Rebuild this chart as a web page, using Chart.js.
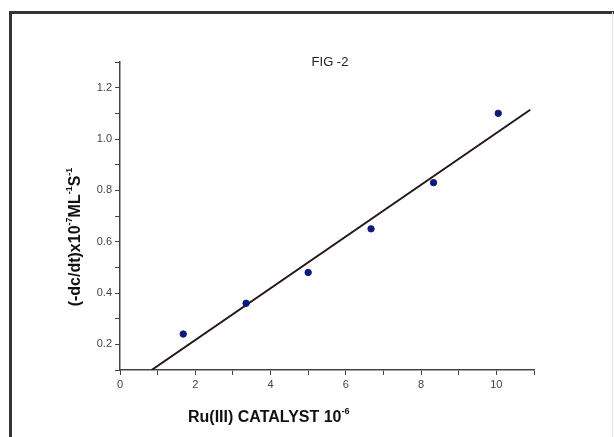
<!DOCTYPE html>
<html>
<head>
<meta charset="utf-8">
<script src="https://cdn.jsdelivr.net/npm/chart.js@4/dist/chart.umd.min.js"></script>
<style>
  html, body { margin: 0; padding: 0; background: #fff; }
  #wrap { width: 614px; height: 437px; position: relative; }
</style>
</head>
<body>
<div id="wrap"><canvas id="fig2"></canvas></div>
<script>
// Ru(III) catalyst concentration (x10^-6) vs rate (x10^-7 M L^-1 S^-1)
const catalyst = [1.68, 3.35, 5.0, 6.67, 8.33, 10.05];
const rate = [0.24, 0.36, 0.48, 0.65, 0.83, 1.10];

// fitted straight line, end points
const fitX = [0.84, 10.9];
const fitY = [0.10, 1.114];

const xTicks = [0, 2, 4, 6, 8, 10];
const yTicks = [0.2, 0.4, 0.6, 0.8, 1.0, 1.2];

const font = '"Liberation Sans", Arial, sans-serif';

// draws text with superscript parts, parts = [[text, isSup], ...]
function drawRich(ctx, parts, x, y, size) {
    let cx = x;
    parts.forEach(function (p) {
        const sup = p[1];
        ctx.font = 'bold ' + (sup ? Math.round(size * 0.55) : size) + 'px ' + font;
        ctx.fillText(p[0], cx, sup ? y - size * 0.42 : y);
        cx += ctx.measureText(p[0]).width;
    });
}

function richWidth(ctx, parts, size) {
    let w = 0;
    parts.forEach(function (p) {
        ctx.font = 'bold ' + (p[1] ? Math.round(size * 0.55) : size) + 'px ' + font;
        w += ctx.measureText(p[0]).width;
    });
    return w;
}

const decorations = {
    id: 'decorations',
    afterDraw(chart) {
        const ctx = chart.ctx;
        ctx.save();

        // outer frame
        ctx.strokeStyle = '#333';
        ctx.lineWidth = 3;
        ctx.beginPath();
        ctx.moveTo(10.5, 437);
        ctx.lineTo(10.5, 12.5);
        ctx.lineTo(614, 12.5);
        ctx.stroke();
        ctx.strokeStyle = '#e4e4e4';
        ctx.lineWidth = 1;
        ctx.beginPath();
        ctx.moveTo(612.5, 12);
        ctx.lineTo(612.5, 437);
        ctx.stroke();

        // title
        ctx.fillStyle = '#222';
        ctx.font = '13px ' + font;
        ctx.textAlign = 'center';
        ctx.textBaseline = 'middle';
        ctx.fillText('FIG -2', 330, 62);

        ctx.textAlign = 'left';
        ctx.textBaseline = 'middle';
        ctx.fillStyle = '#111';

        // x axis title
        const xParts = [['Ru(III) CATALYST 10', false], ['-6', true]];
        drawRich(ctx, xParts, 188, 418, 16);

        // y axis title
        const yParts = [['(-dc/dt)x10', false], ['-7', true], ['ML', false],
            ['-1', true], ['S', false], ['-1', true]];
        const w = richWidth(ctx, yParts, 16);
        ctx.translate(76, 237);
        ctx.rotate(-Math.PI / 2);
        drawRich(ctx, yParts, -w / 2, 0, 16);

        ctx.restore();
    }
};

new Chart(document.getElementById('fig2'), {
    type: 'scatter',
    data: {
        datasets: [
            {
                label: 'rate',
                data: catalyst.map((x, i) => ({ x: x, y: rate[i] })),
                backgroundColor: '#0c1a7c',
                borderColor: '#0c1a7c',
                pointRadius: 3.2,
                showLine: false,
            },
            {
                label: 'fit',
                data: fitX.map((x, i) => ({ x: x, y: fitY[i] })),
                showLine: true,
                borderColor: '#261616',
                borderWidth: 2,
                pointRadius: 0,
                fill: false,
            },
        ],
    },
    options: {
        responsive: true,
        maintainAspectRatio: false,
        animation: false,
        layout: { padding: { left: 0, top: 62, right: 80, bottom: 0 } },
        plugins: {
            legend: { display: false },
            tooltip: { enabled: false },
        },
        scales: {
            x: {
                type: 'linear',
                min: 0,
                max: 11,
                afterFit: s => { s.height = 67; },
                border: { color: '#444', width: 1.5 },
                grid: { drawOnChartArea: false, tickLength: 5, color: '#444', lineWidth: 1 },
                ticks: {
                    stepSize: 1,
                    padding: 3,
                    color: '#444',
                    font: { family: font, size: 11 },
                    callback: v => (xTicks.includes(v) ? String(v) : ''),
                },
            },
            y: {
                type: 'linear',
                min: 0.1,
                max: 1.3,
                afterFit: s => { s.width = 120; },
                border: { color: '#444', width: 1.5 },
                grid: { drawOnChartArea: false, tickLength: 5, color: '#444', lineWidth: 1 },
                ticks: {
                    stepSize: 0.1,
                    padding: 3,
                    color: '#444',
                    font: { family: font, size: 11 },
                    callback: v => {
                        const r = Math.round(v * 10) / 10;
                        return yTicks.includes(r) ? r.toFixed(1) : '';
                    },
                },
            },
        },
    },
    plugins: [decorations],
});
</script>
</body>
</html>
